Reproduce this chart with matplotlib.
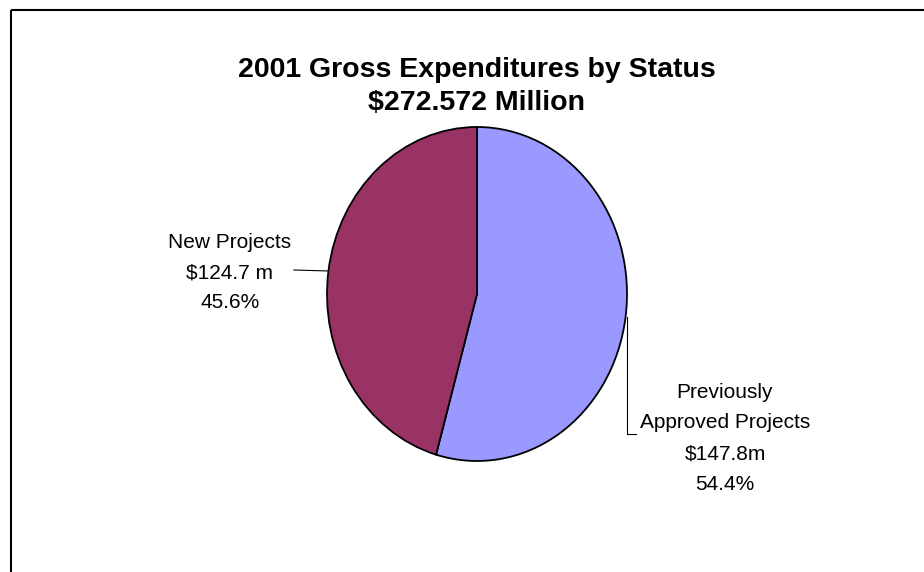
#!/usr/bin/env python3
'''
Pie chart of 2001 gross expenditures split by project status
'''
import numpy as np
import matplotlib.pyplot as plt

plt.rcParams['font.family'] = ['Liberation Sans', 'DejaVu Sans']

# slices run clockwise from 12 o'clock
statuses = ['Previously\nApproved Projects', 'New Projects']
amounts = ['$147.8m', '$124.7 m']
shares = [54.4, 45.6]
colors = ['#9999FF', '#993366']
title_lines = ['2001 Gross Expenditures by Status', '$272.572 Million']


def pie_chart():
    '''
    Draws the pie with its leader lines and labels
    '''
    fig = plt.figure(figsize=(9.24, 5.72), dpi=100)

    # full-size overlay in pixel units for the frame, title and labels
    bg = fig.add_axes([0, 0, 1, 1])
    bg.set_xlim(0, 924)
    bg.set_ylim(572, 0)
    bg.axis('off')
    bg.plot([11, 924], [10, 10], color='black', lw=1.5,
            solid_capstyle='butt')
    bg.plot([11, 11], [10, 572], color='black', lw=1.5,
            solid_capstyle='butt')

    for i, line in enumerate(title_lines):
        bg.text(477, 70 + 33 * i, line, ha='center', va='center',
                fontsize=20.5, fontweight='bold')

    # the pie sits in its own box, stretched a little taller than wide
    ax = fig.add_axes([327 / 924, (572 - 461) / 572, 300 / 924, 334 / 572])
    wedges, _ = ax.pie(shares, colors=colors, startangle=90,
                       counterclock=False, radius=1,
                       wedgeprops={'edgecolor': 'black', 'linewidth': 1.3})
    ax.set_xlim(-1, 1)
    ax.set_ylim(-1, 1)
    ax.set_aspect('auto')
    ax.axis('off')

    def to_pix(x, y):
        disp = ax.transData.transform((x, y))
        return bg.transData.inverted().transform(disp)

    mids = []
    for w in wedges:
        ang = np.deg2rad((w.theta1 + w.theta2) / 2)
        mids.append(to_pix(np.cos(ang), np.sin(ang)))

    # Previously Approved: elbow leader down to the label
    mx, my = mids[0]
    bg.plot([mx + 1, mx + 1, 636], [my, 434, 434], color='black', lw=0.8)
    # New Projects: short straight leader
    nx, ny = mids[1]
    bg.plot([nx, 294], [ny, 270], color='black', lw=0.8)

    right = statuses[0].split('\n') + [amounts[0], '%.1f%%' % shares[0]]
    for i, line in enumerate(right):
        bg.text(725, 392 + 31 * i, line, ha='center', va='center',
                fontsize=15)
    left = [statuses[1], amounts[1], '%.1f%%' % shares[1]]
    for i, line in enumerate(left):
        bg.text(230, 242 + 30.5 * i, line, ha='center', va='center',
                fontsize=15)

    fig.savefig('out.png', dpi=100)


pie_chart()
